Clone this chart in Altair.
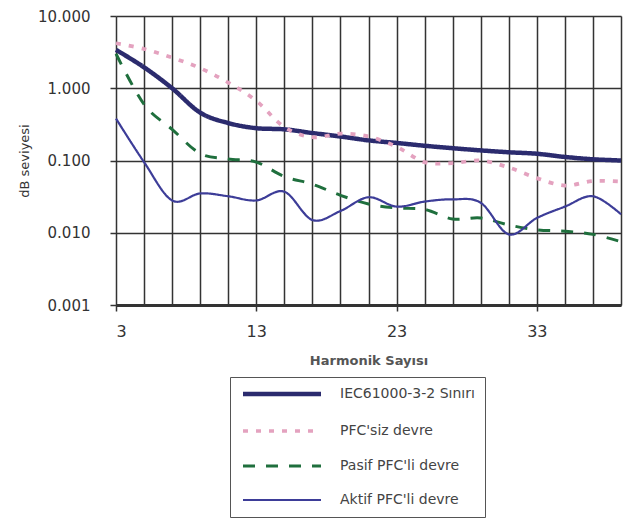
import altair as alt
import pandas as pd

harmonics = list(range(3, 40, 2))
series_names = ["IEC61000-3-2 Sınırı", "PFC'siz devre", "Pasif PFC'li devre", "Aktif PFC'li devre"]
iec = [3.4, 1.95, 1.0, 0.46, 0.33, 0.28, 0.27, 0.24, 0.215, 0.19, 0.175, 0.16, 0.148, 0.138,
       0.13, 0.124, 0.112, 0.104, 0.1]
pfcsiz = [4.2, 3.5, 2.65, 1.9, 1.2, 0.67, 0.29, 0.21, 0.235, 0.215, 0.155, 0.095, 0.092, 0.10,
          0.08, 0.057, 0.045, 0.052, 0.051]
pasif = [3.0, 0.6, 0.27, 0.125, 0.105, 0.095, 0.06, 0.047, 0.033, 0.025, 0.022, 0.021, 0.0155,
         0.016, 0.0128, 0.011, 0.0105, 0.0095, 0.0075]
aktif = [0.38, 0.095, 0.028, 0.035, 0.032, 0.028, 0.037, 0.015, 0.02, 0.031, 0.023, 0.027, 0.029,
         0.026, 0.0095, 0.016, 0.023, 0.032, 0.018]
y_ticks = [0.001, 0.01, 0.1, 1, 10]

colors = ["#2b2b6e", "#e4a2bf", "#1f6f3d", "#3d3d98"]
widths = [4.5, 2.2, 4.5, 1.8]
dashes = [[1, 0], [5, 8], [12, 11], [1, 0]]

rows = []
for name, vals in zip(series_names, [iec, pfcsiz, pasif, aktif]):
    for h, v in zip(harmonics, vals):
        rows.append({"seri": name, "h": h, "v": v})
df = pd.DataFrame(rows)

FONT = "DejaVu Sans"

legend = alt.Legend(
    title=None, orient="none", legendX=114, legendY=361,
    symbolType="M-1,0H18.5", symbolSize=64,
    padding=10, strokeColor="#555", fillColor="white",
    labelFont=FONT, labelFontSize=14, labelColor="#444", labelOffset=86,
    rowPadding=20,
)

chart = alt.Chart(df).mark_line(interpolate="cardinal").encode(
    x=alt.X("h:Q",
            scale=alt.Scale(domain=[3, 39], nice=False, zero=False),
            axis=alt.Axis(values=harmonics, title="Harmonik Sayısı",
                          labelExpr="(datum.value - 3) % 10 == 0 ? datum.label : ''",
                          tickOpacity=alt.condition("(datum.value - 3) % 10 == 0", alt.value(1), alt.value(0)),
                          tickSize=6, tickWidth=1.5, tickColor="#333",
                          labelPadding=12, labelFontSize=16, labelColor="#333", labelFont=FONT,
                          titleFont=FONT, titleFontSize=13, titleFontWeight="bold", titleColor="#555",
                          titlePadding=15,
                          domainColor="#333", domainWidth=3,
                          grid=True, gridColor="#333", gridWidth=1.5, gridOpacity=1)),
    y=alt.Y("v:Q",
            scale=alt.Scale(type="log", domain=[0.001, 10]),
            axis=alt.Axis(values=y_ticks, format=".3f", title="dB seviyesi",
                          tickSize=6, tickWidth=1.5, tickColor="#333",
                          labelPadding=20, labelFontSize=15, labelColor="#333", labelFont=FONT,
                          titleFont=FONT, titleFontSize=13, titleFontWeight="normal", titleColor="#333",
                          titlePadding=6, domain=False,
                          grid=True, gridColor="#333", gridWidth=1.5, gridOpacity=1)),
    color=alt.Color("seri:N", scale=alt.Scale(domain=series_names, range=colors), legend=legend),
    strokeWidth=alt.StrokeWidth("seri:N", scale=alt.Scale(domain=series_names, range=widths), legend=legend),
    strokeDash=alt.StrokeDash("seri:N", scale=alt.Scale(domain=series_names, range=dashes), legend=legend),
).properties(
    width=505, height=289,
    padding={"left": 108, "top": 8, "right": 5, "bottom": 215},
    autosize=alt.AutoSizeParams(type="none"),
).configure_view(
    stroke="#333", strokeWidth=1.5
).configure(background="white")

chart.save("out.html", embed_options={"renderer": "svg", "actions": False})
